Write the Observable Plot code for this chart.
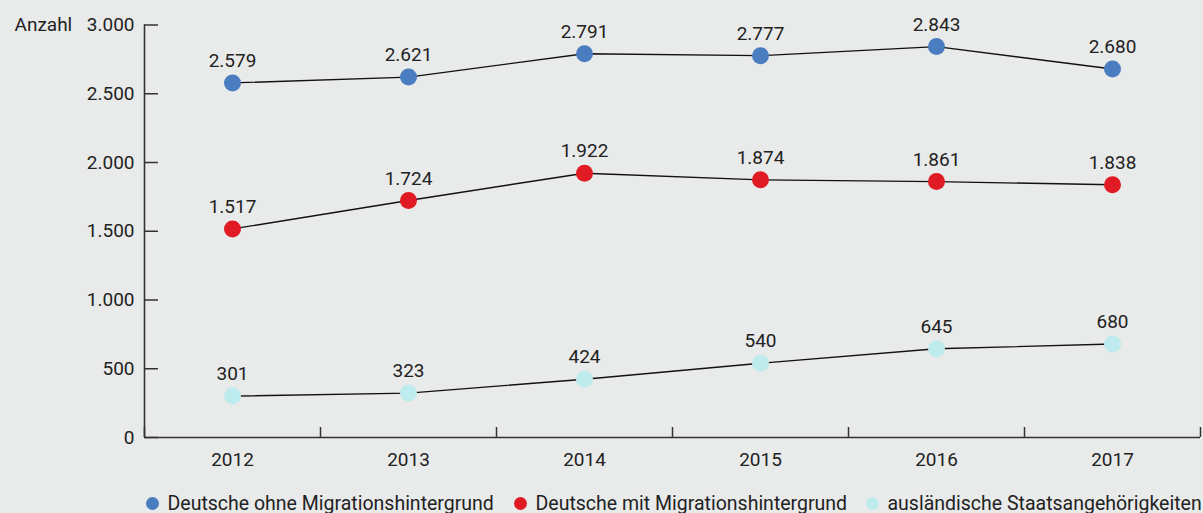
<!DOCTYPE html>
<html>
<head>
<meta charset="utf-8">
<script src="https://cdn.jsdelivr.net/npm/d3@7"></script>
<script src="https://cdn.jsdelivr.net/npm/@observablehq/plot@0.6"></script>
<style>
  html, body { margin: 0; padding: 0; background: #e9eaea; }
  body { width: 1203px; height: 513px; overflow: hidden; position: relative; font-family: Roboto, "Liberation Sans", sans-serif; color: #222; }
  #legend { position: absolute; left: 0; top: 491px; width: 1203px; height: 24px; font-size: 19.5px; }
  .item { position: absolute; top: 0; height: 24px; display: flex; align-items: center; gap: 8.5px; white-space: nowrap; }
  .dot { width: 13px; height: 13px; border-radius: 50%; display: inline-block; flex: none; }
</style>
</head>
<body>
<div id="chart"></div>
<div id="legend"></div>
<script>
const years = [2012, 2013, 2014, 2015, 2016, 2017];
const seriesNames = ["Deutsche ohne Migrationshintergrund", "Deutsche mit Migrationshintergrund", "ausländische Staatsangehörigkeiten"];
const ohneMigration = [2579, 2621, 2791, 2777, 2843, 2680];
const mitMigration = [1517, 1724, 1922, 1874, 1861, 1838];
const auslaendisch = [301, 323, 424, 540, 645, 680];
const colors = ["#4a7cc0", "#e01b24", "#bdebee"];
const yTicks = [0, 500, 1000, 1500, 2000, 2500, 3000];
const legendLeft = [146, 514, 866];

const fmt = d3.formatLocale({decimal: ",", thousands: ".", grouping: [3], currency: ["", " €"]}).format(",");

const allSeries = [ohneMigration, mitMigration, auslaendisch];
const data = [];
allSeries.forEach((vals, si) => vals.forEach((v, i) => data.push({series: seriesNames[si], year: years[i], value: v})));

const xMin = d3.min(years) - 0.5, xMax = d3.max(years) + 0.5;
const bounds = years.map(y => y - 0.5).concat([xMax]);

const plot = Plot.plot({
  width: 1203,
  height: 472,
  marginTop: 24.5,
  marginBottom: 35,
  marginLeft: 144,
  marginRight: 3,
  style: {fontFamily: "Roboto, 'Liberation Sans', sans-serif", fontSize: "19px", background: "transparent", color: "#222", overflow: "visible"},
  x: {domain: [xMin, xMax], axis: null},
  y: {domain: [0, 3000], axis: null},
  color: {domain: seriesNames, range: colors},
  marks: [
    Plot.axisY({ticks: yTicks, tickSize: 0, tickPadding: 10, tickFormat: fmt, fontSize: 19, fill: "#222", label: null}),
    Plot.axisY({ticks: yTicks, tickSize: -14, tickFormat: () => "", stroke: "#333", strokeWidth: 1.5, label: null}),
    Plot.axisX({ticks: years, tickSize: 0, tickPadding: 15, tickFormat: d => String(d), fontSize: 19, fill: "#222", label: null}),
    Plot.axisX({ticks: bounds, tickSize: -10, tickFormat: () => "", stroke: "#333", strokeWidth: 1.5, label: null}),
    Plot.ruleX([xMin], {stroke: "#333", strokeWidth: 1.6}),
    Plot.ruleY([0], {stroke: "#333", strokeWidth: 1.6}),
    Plot.text(["Anzahl"], {frameAnchor: "top-left", dx: -130, textAnchor: "start", lineAnchor: "middle", fontSize: 19, fill: "#222"}),
    Plot.line(data, {x: "year", y: "value", z: "series", stroke: "#111", strokeWidth: 1.4}),
    Plot.dot(data, {x: "year", y: "value", fill: "series", r: 8.5, stroke: null}),
    Plot.text(data, {x: "year", y: "value", text: d => fmt(d.value), dy: -22, fontSize: 19, fill: "#222"})
  ]
});
document.getElementById("chart").appendChild(plot);

const legend = document.getElementById("legend");
seriesNames.forEach((name, i) => {
  const item = document.createElement("span");
  item.className = "item";
  item.style.left = legendLeft[i] + "px";
  const dot = document.createElement("span");
  dot.className = "dot";
  dot.style.background = colors[i];
  const label = document.createElement("span");
  label.textContent = name;
  item.appendChild(dot);
  item.appendChild(label);
  legend.appendChild(item);
});
</script>
</body>
</html>
